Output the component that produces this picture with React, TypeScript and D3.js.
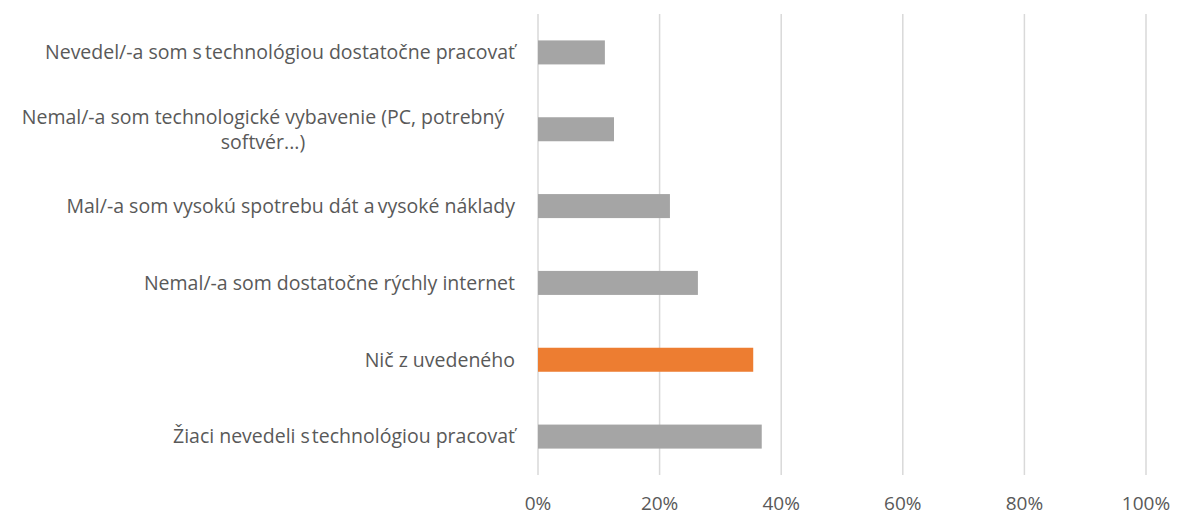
import React from 'react';
import * as d3 from 'd3';

// categories from top to bottom
const categories = [
  ['Nevedel/-a som s\u2009technológiou dostatočne pracovať'],
  ['Nemal/-a som technologické vybavenie (PC, potrebný', 'softvér...)'],
  ['Mal/-a som vysokú spotrebu dát a\u2009vysoké náklady'],
  ['Nemal/-a som dostatočne rýchly internet'],
  ['Nič z uvedeného'],
  ['Žiaci nevedeli s\u200Atechnológiou pracovať'],
];
const values = [0.11, 0.125, 0.217, 0.263, 0.354, 0.368];
const highlighted = [false, false, false, false, true, false];
const ticks = [0, 0.2, 0.4, 0.6, 0.8, 1];

const W = 1177;
const H = 517;
const PLOT_LEFT = 538;
const PLOT_RIGHT = 1146;
const PLOT_TOP = 14;
const PLOT_BOTTOM = 475;

const FONT = '"Open Sans", "Noto Sans", sans-serif';
const TEXT = '#595959';

export default function App() {
  const x = d3.scaleLinear().domain([0, 1]).range([PLOT_LEFT, PLOT_RIGHT]);
  const y = d3.scaleBand<number>()
    .domain(d3.range(categories.length))
    .range([PLOT_TOP, PLOT_BOTTOM])
    .paddingInner(0.6875)
    .paddingOuter(0.34375);
  const fmt = d3.format('.0%');
  const labelX = 515;
  const labelCenter = 263;

  return (
    <svg width={W} height={H} style={{ position: 'absolute', left: 0, top: 0, background: '#fff' }}
      fontFamily={FONT}>
      {/* gridlines */}
      {ticks.map(t => (
        <line key={t} x1={x(t)} x2={x(t)} y1={PLOT_TOP} y2={PLOT_BOTTOM}
          stroke="#d9d9d9" strokeWidth={1.5} />
      ))}
      {/* bars */}
      {values.map((v, i) => (
        <rect key={i} x={x(0)} y={y(i)} width={x(v) - x(0)} height={y.bandwidth()}
          fill={highlighted[i] ? '#ed7d31' : '#a5a5a5'} />
      ))}
      {/* category labels */}
      {categories.map((lines, i) => {
        const cy = (y(i) as number) + y.bandwidth() / 2;
        const lh = 25;
        const y0 = cy - ((lines.length - 1) * lh) / 2;
        return lines.map((s, j) => (
          <text key={`${i}-${j}`}
            x={lines.length > 1 ? labelCenter : labelX}
            y={y0 + j * lh}
            dy="0.35em"
            textAnchor={lines.length > 1 ? 'middle' : 'end'}
            fontSize={19.5} fill={TEXT}>{s}</text>
        ));
      })}
      {/* tick labels */}
      {ticks.map(t => (
        <text key={t} x={x(t)} y={510} textAnchor="middle"
          fontSize={19} fill={TEXT}>{fmt(t)}</text>
      ))}
    </svg>
  );
}
